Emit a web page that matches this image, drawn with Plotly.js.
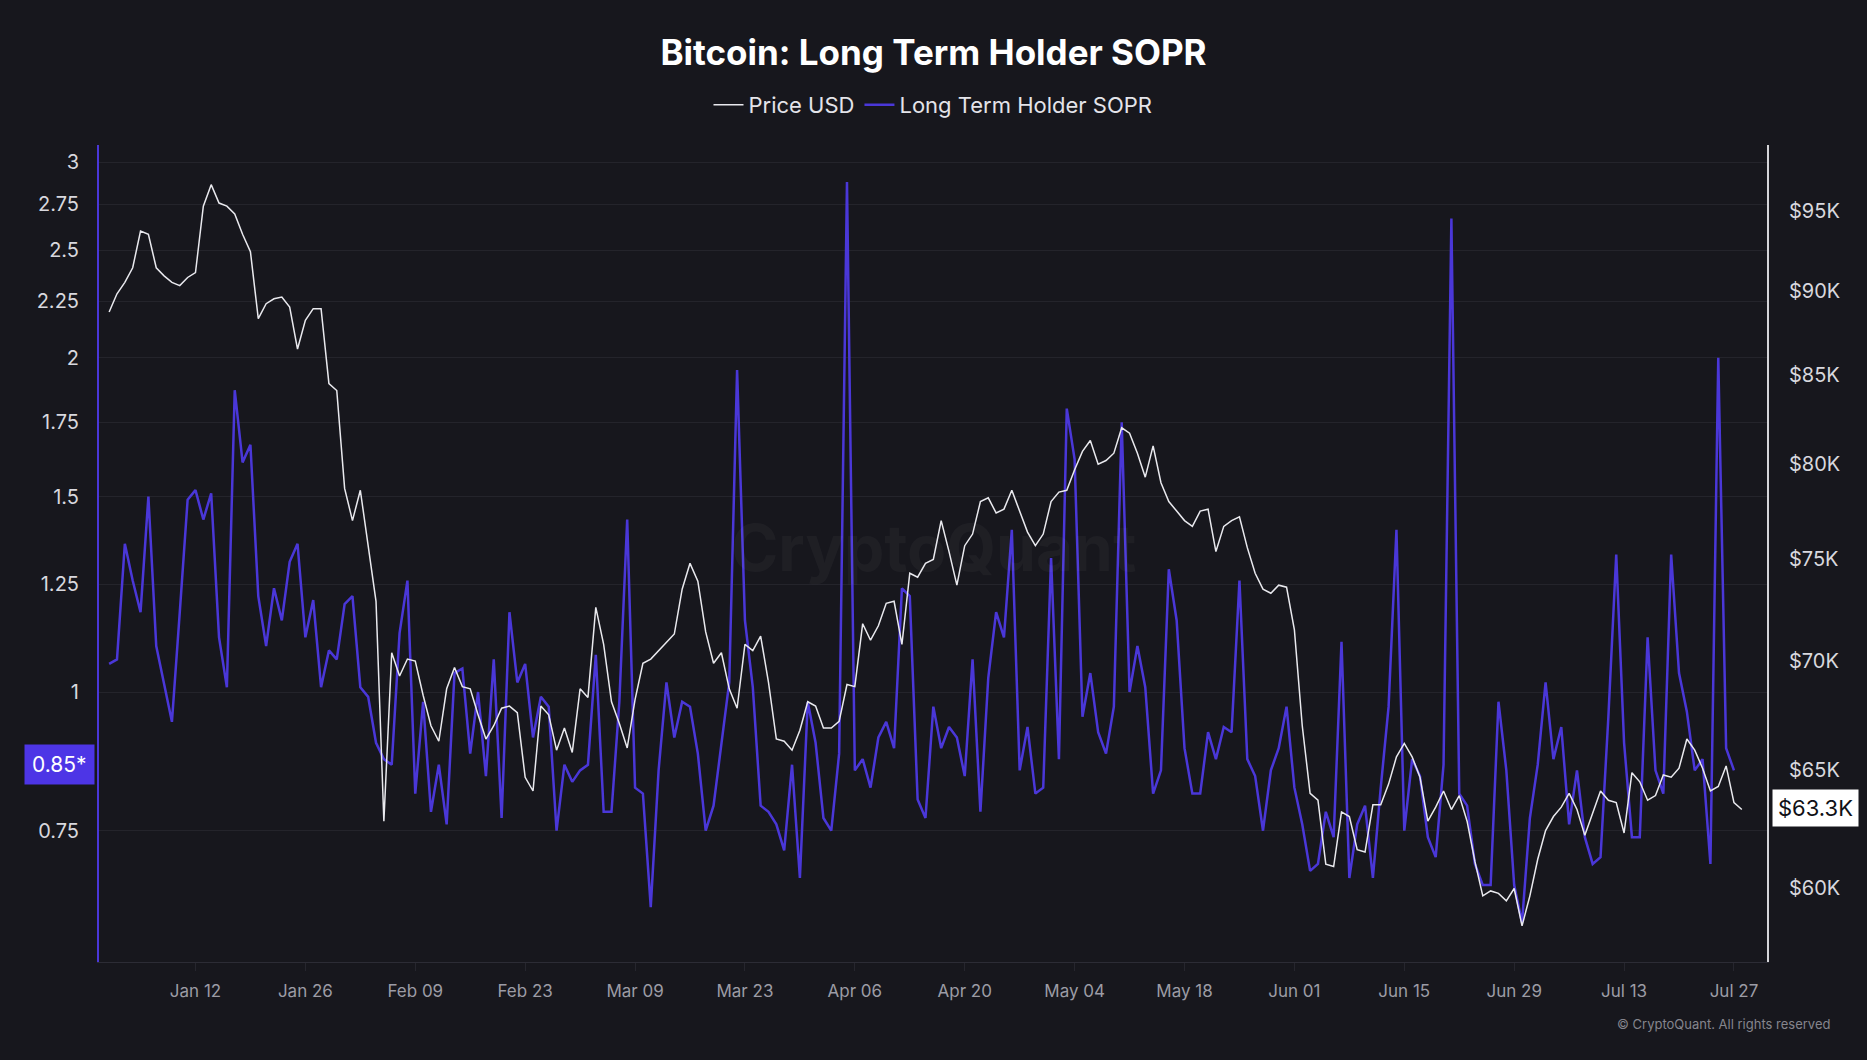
<!DOCTYPE html>
<html>
<head>
<meta charset="utf-8">
<script src="https://cdn.plot.ly/plotly-3.0.1.min.js"></script>
<style>
  html, body { margin: 0; padding: 0; background: #17171d; }
  #chart { width: 1867px; height: 1060px; }
</style>
</head>
<body>
<div id="chart"></div>
<script>
// Daily series starting 2026-01-01
const startDate = '2026-01-01';

// Long Term Holder SOPR (daily)
const sopr = [
  1.06, 1.07, 1.36, 1.26, 1.18, 1.50, 1.10, 1.02, 0.94, 1.18,
  1.49, 1.52, 1.43, 1.51, 1.12, 1.01, 1.87, 1.61, 1.67, 1.22,
  1.10, 1.24, 1.16, 1.31, 1.36, 1.12, 1.21, 1.01, 1.09, 1.07,
  1.20, 1.22, 1.01, 0.99, 0.90, 0.87, 0.86, 1.13, 1.26, 0.81,
  0.98, 0.78, 0.86, 0.76, 1.04, 1.05, 0.88, 1.00, 0.84, 1.07,
  0.77, 1.18, 1.02, 1.06, 0.91, 0.99, 0.97, 0.75, 0.86, 0.83,
  0.85, 0.86, 1.08, 0.78, 0.78, 0.98, 1.43, 0.82, 0.81, 0.64,
  0.85, 1.02, 0.91, 0.98, 0.97, 0.88, 0.75, 0.79, 0.90, 1.02,
  1.95, 1.16, 1.01, 0.79, 0.78, 0.76, 0.72, 0.86, 0.68, 0.98,
  0.90, 0.77, 0.75, 0.88, 2.88, 0.85, 0.87, 0.82, 0.91, 0.94,
  0.89, 1.24, 1.22, 0.80, 0.77, 0.97, 0.89, 0.93, 0.91, 0.84,
  1.07, 0.78, 1.03, 1.18, 1.12, 1.40, 0.85, 0.93, 0.81, 0.82,
  1.32, 0.87, 1.80, 1.62, 0.95, 1.04, 0.92, 0.88, 0.97, 1.75,
  1.00, 1.10, 1.01, 0.81, 0.85, 1.29, 1.16, 0.89, 0.81, 0.81,
  0.92, 0.87, 0.93, 0.92, 1.26, 0.87, 0.84, 0.75, 0.85, 0.89,
  0.97, 0.82, 0.76, 0.69, 0.70, 0.78, 0.74, 1.11, 0.68, 0.76,
  0.79, 0.68, 0.82, 0.97, 1.40, 0.75, 0.87, 0.84, 0.74, 0.71,
  0.86, 2.67, 0.81, 0.79, 0.70, 0.67, 0.67, 0.98, 0.85, 0.67,
  0.62, 0.77, 0.86, 1.02, 0.87, 0.93, 0.76, 0.85, 0.74, 0.70,
  0.71, 0.95, 1.33, 0.90, 0.74, 0.74, 1.12, 0.85, 0.81, 1.33,
  1.04, 0.96, 0.85, 0.87, 0.70, 2.00, 0.89, 0.85
];

// Bitcoin price, thousands of USD (daily)
const priceK = [
  88.7, 89.8, 90.5, 91.4, 93.7, 93.5, 91.4, 90.9, 90.5, 90.3,
  90.8, 91.1, 95.3, 96.7, 95.5, 95.3, 94.8, 93.5, 92.4, 88.3,
  89.2, 89.5, 89.6, 89.0, 86.5, 88.2, 88.9, 88.9, 84.5, 84.1,
  78.7, 77.0, 78.6, 75.6, 72.9, 62.8, 70.4, 69.3, 70.1, 70.0,
  68.4, 67.0, 66.3, 68.7, 69.7, 68.8, 68.7, 67.5, 66.4, 67.0,
  67.8, 67.9, 67.6, 64.7, 64.1, 67.9, 67.5, 65.9, 66.9, 65.8,
  68.7, 68.3, 72.6, 70.8, 68.1, 67.1, 66.0, 68.2, 69.9, 70.1,
  70.5, 70.9, 71.3, 73.5, 74.8, 73.9, 71.4, 69.9, 70.4, 68.7,
  67.8, 70.8, 70.5, 71.2, 69.0, 66.4, 66.3, 65.9, 66.8, 68.1,
  67.9, 66.9, 66.9, 67.2, 68.9, 68.8, 71.8, 71.0, 71.7, 72.8,
  72.9, 70.8, 74.3, 74.1, 74.8, 75.0, 77.0, 75.4, 73.7, 75.7,
  76.3, 78.0, 78.2, 77.4, 77.6, 78.6, 77.5, 76.4, 75.7, 76.3,
  78.0, 78.5, 78.6, 79.7, 80.7, 81.3, 80.0, 80.2, 80.6, 82.0,
  81.7, 80.6, 79.3, 81.0, 79.0, 78.0, 77.5, 77.0, 76.7, 77.5,
  77.6, 75.4, 76.7, 77.0, 77.2, 75.6, 74.3, 73.5, 73.3, 73.7,
  73.6, 71.5, 67.0, 64.0, 63.7, 61.0, 60.9, 63.2, 63.0, 61.6,
  61.5, 63.5, 63.5, 64.4, 65.6, 66.2, 65.6, 64.7, 62.8, 63.4,
  64.1, 63.3, 63.9, 62.8, 61.1, 59.7, 59.9, 59.8, 59.5, 60.0,
  58.5, 59.7, 61.2, 62.4, 63.0, 63.4, 64.0, 63.3, 62.2, 63.1,
  64.1, 63.7, 63.6, 62.3, 64.9, 64.5, 63.7, 63.9, 64.8, 64.7,
  65.1, 66.4, 65.9, 65.1, 64.1, 64.3, 65.2, 63.6, 63.3
];

// Axis ticks
const soprTicks = [0.75, 1, 1.25, 1.5, 1.75, 2, 2.25, 2.5, 2.75, 3];
const soprTickText = ['0.75', '1', '1.25', '1.5', '1.75', '2', '2.25', '2.5', '2.75', '3'];
const priceTicks = [60, 65, 70, 75, 80, 85, 90, 95];
const priceTickText = ['$60K', '$65K', '$70K', '$75K', '$80K', '$85K', '$90K', '$95K'];

function dayList(n) {
  const base = new Date(startDate + 'T00:00:00Z').getTime();
  const out = [];
  for (let i = 0; i < n; i++) {
    out.push(new Date(base + i * 86400000).toISOString().slice(0, 10));
  }
  return out;
}
const soprDates = dayList(sopr.length);
const priceDates = dayList(priceK.length);

const SOPR_COLOR = '#4a37d8';
const BG = '#17171d';
const FONT = 'Inter, "Open Sans", sans-serif';

const traces = [
  {
    name: 'Price USD',
    x: priceDates,
    y: priceK,
    yaxis: 'y2',
    type: 'scatter',
    mode: 'lines',
    line: { color: '#e9e9ee', width: 1.5 },
    hoverinfo: 'skip'
  },
  {
    name: 'Long Term Holder SOPR',
    x: soprDates,
    y: sopr,
    yaxis: 'y',
    type: 'scatter',
    mode: 'lines',
    line: { color: SOPR_COLOR, width: 2.5 },
    hoverinfo: 'skip'
  }
];

const lastSopr = sopr[sopr.length - 1];
const lastPrice = priceK[priceK.length - 1];

const layout = {
  width: 1867,
  height: 1060,
  margin: { l: 99, r: 100, t: 145, b: 98 },
  paper_bgcolor: BG,
  plot_bgcolor: BG,
  font: { family: FONT, color: '#d6d6dc' },
  showlegend: true,
  hovermode: false,
  title: {
    text: '<b>Bitcoin: Long Term Holder SOPR</b>',
    font: { family: FONT, size: 35, color: '#ffffff' },
    x: 0.5, xanchor: 'center',
    y: 0.95, yanchor: 'middle', yref: 'container'
  },
  legend: {
    orientation: 'h',
    x: 0.5, xanchor: 'center',
    y: 1.049, yanchor: 'middle',
    font: { family: FONT, size: 22, color: '#e4e4ea' },
    itemwidth: 30,
    bgcolor: 'rgba(0,0,0,0)'
  },
  xaxis: {
    type: 'date',
    range: ['2025-12-30 17:00', '2026-07-31 05:00'],
    tick0: '2026-01-12',
    dtick: 14 * 86400000,
    tickformat: '%b %d',
    showgrid: false,
    zeroline: false,
    showline: true,
    linecolor: '#2c2c35',
    linewidth: 1,
    ticks: 'outside',
    ticklen: 8,
    tickcolor: '#26262e',
    ticklabelstandoff: 6,
    tickfont: { family: FONT, size: 17, color: '#9c9ca5' }
  },
  yaxis: {
    type: 'log',
    range: [-0.2432, 0.4927],
    tickmode: 'array',
    tickvals: soprTicks,
    ticktext: soprTickText,
    showgrid: true,
    gridcolor: '#24242b',
    gridwidth: 1,
    zeroline: false,
    showline: true,
    linecolor: SOPR_COLOR,
    linewidth: 2,
    ticks: '',
    ticklabelstandoff: 14,
    tickfont: { family: FONT, size: 20, color: '#d8d8de' }
  },
  yaxis2: {
    type: 'log',
    overlaying: 'y',
    side: 'right',
    range: [1.7565, 1.9971],
    tickmode: 'array',
    tickvals: priceTicks,
    ticktext: priceTickText,
    showgrid: false,
    zeroline: false,
    showline: true,
    linecolor: '#d4d4d8',
    linewidth: 2,
    ticks: '',
    ticklabelstandoff: 16,
    tickfont: { family: FONT, size: 20, color: '#d8d8de' }
  },
  shapes: [
    {
      type: 'line', xref: 'paper', yref: 'y',
      x0: 0, x1: 1, y0: 0, y1: 0,
      line: { color: '#4a4a52', width: 1, dash: 'dash' },
      layer: 'below'
    }
  ],
  annotations: [
    {
      text: '<b>CryptoQuant</b>',
      xref: 'paper', yref: 'paper', x: 0.5, y: 0.507,
      showarrow: false,
      font: { family: FONT, size: 64, color: 'rgba(255,255,255,0.035)' }
    },
    {
      text: lastSopr.toFixed(2) + '*',
      xref: 'paper', yref: 'y', x: 0, y: Math.log10(lastSopr),
      xanchor: 'right', yanchor: 'middle', xshift: -4, yshift: 6,
      showarrow: false,
      bgcolor: '#4d35e6', borderpad: 7,
      font: { family: FONT, size: 21, color: '#ffffff' }
    },
    {
      text: '$' + lastPrice.toFixed(1) + 'K',
      xref: 'paper', yref: 'y2', x: 1, y: Math.log10(lastPrice),
      xanchor: 'left', yanchor: 'middle', xshift: 5, yshift: 2,
      showarrow: false,
      bgcolor: '#ffffff', borderpad: 5,
      font: { family: FONT, size: 22, color: '#111116' }
    },
    {
      text: '© CryptoQuant. All rights reserved',
      xref: 'paper', yref: 'paper', x: 1.039, y: -0.076,
      xanchor: 'right', yanchor: 'middle',
      showarrow: false,
      font: { family: FONT, size: 13, color: '#85858d' }
    }
  ]
};

Plotly.newPlot('chart', traces, layout, { displayModeBar: false, staticPlot: true });
</script>
</body>
</html>
